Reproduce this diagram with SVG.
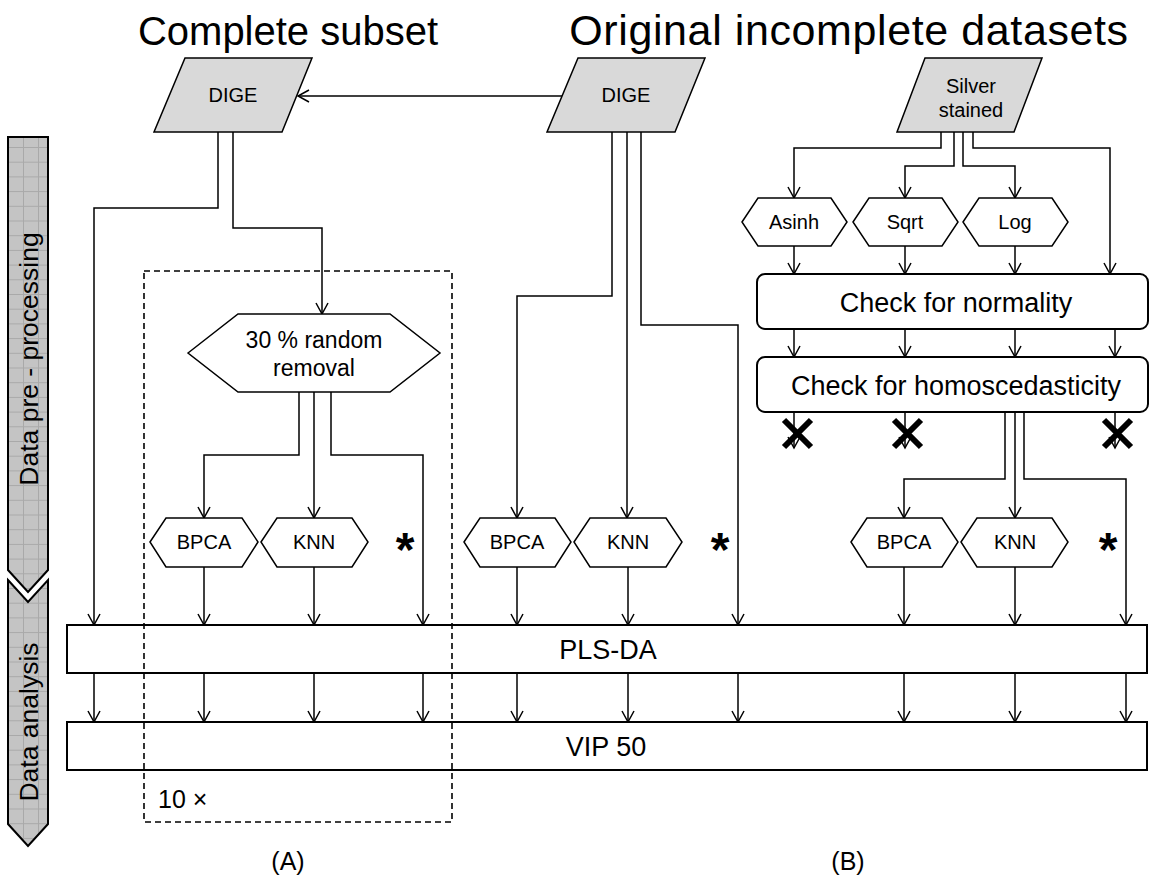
<svg xmlns="http://www.w3.org/2000/svg" width="1156" height="893" viewBox="0 0 1156 893">
  <defs>
    <marker id="arrow" viewBox="0 0 14 14" refX="12" refY="7" markerWidth="14" markerHeight="14" markerUnits="userSpaceOnUse" orient="auto">
      <path d="M1,1 L12,7 L1,13" fill="none" stroke="#000" stroke-width="1.5"/>
    </marker>
    <pattern id="grid" x="8" y="0" width="15" height="14.7" patternUnits="userSpaceOnUse">
      <rect width="15" height="14.7" fill="#c4c4c4"/>
      <path d="M0,0.5 H15 M0.5,0 V14.7" stroke="#a9a9a9" stroke-width="1" fill="none"/>
    </pattern>
    <style>
      text { font-family: "Liberation Sans", Arial, sans-serif; fill: #000; }
      .title { font-size: 40px; text-anchor: middle; }
      .lbl { font-size: 20px; text-anchor: middle; }
      .big { font-size: 27px; text-anchor: middle; }
      .side { font-size: 26.5px; text-anchor: middle; }
      .star { font-size: 48px; font-weight: bold; text-anchor: middle; }
      .data { fill: #d9d9d9; stroke: #000; stroke-width: 1.5; }
      .hex { fill: #fff; stroke: #000; stroke-width: 1.5; }
      .box { fill: #fff; stroke: #000; stroke-width: 2; }
      .band { fill: url(#grid); stroke: #000; stroke-width: 2; }
      .conn path { fill: none; stroke: #000; stroke-width: 1.5; marker-end: url(#arrow); }
      .cross { stroke: #000; stroke-width: 6; fill: none; }
    </style>
  </defs>

  <rect width="1156" height="893" fill="#fff"/>

  <!-- section titles -->
  <text class="title" x="288" y="45">Complete subset</text>
  <text class="title" x="849" y="45" style="font-size:43px;letter-spacing:0.6px">Original incomplete datasets</text>

  <!-- side bands -->
  <g id="band-preprocessing">
    <path class="band" d="M8,137 H48 V570 L28,592 L8,570 Z"/>
    <text class="side" transform="translate(38,359) rotate(-90)">Data pre - processing</text>
  </g>
  <g id="band-analysis">
    <path class="band" d="M8,580 L28,602 L48,580 V824 L28,846 L8,824 Z"/>
    <text class="side" transform="translate(38,722) rotate(-90)">Data analysis</text>
  </g>

  <!-- connectors -->
  <g id="connectors" class="conn">
    <path d="M562,96 H298"/>
    <!-- complete subset -->
    <path d="M218,132 V208 H94 V625"/>
    <path d="M233,132 V228 H322 V314"/>
    <path d="M299,392 V455 H204 V518"/>
    <path d="M314,392 V518"/>
    <path d="M331,392 V455 H423 V625"/>
    <path d="M204,567 V625"/>
    <path d="M314,567 V625"/>
    <!-- original DIGE -->
    <path d="M612,132 V296 H517 V518"/>
    <path d="M627,132 V518"/>
    <path d="M641,132 V325 H738 V625"/>
    <path d="M517,567 V625"/>
    <path d="M628,567 V625"/>
    <!-- silver stained -->
    <path d="M941,132 V148 H794 V198"/>
    <path d="M954,132 V166 H905 V198"/>
    <path d="M963,132 V166 H1015 V198"/>
    <path d="M973,132 V148 H1110 V274"/>
    <path d="M794,246 V274"/>
    <path d="M905,246 V274"/>
    <path d="M1015,246 V274"/>
    <path d="M794,329 V357"/>
    <path d="M905,329 V357"/>
    <path d="M1015,329 V357"/>
    <path d="M1115,329 V357"/>
    <path d="M794,412 V448"/>
    <path d="M905,412 V448"/>
    <path d="M1115,412 V448"/>
    <path d="M1005,412 V479 H904 V518"/>
    <path d="M1015,412 V518"/>
    <path d="M1024,412 V479 H1126 V625"/>
    <path d="M904,567 V625"/>
    <path d="M1015,567 V625"/>
    <!-- PLS-DA to VIP -->
    <path d="M94,673 V722"/>
    <path d="M204,673 V722"/>
    <path d="M314,673 V722"/>
    <path d="M423,673 V722"/>
    <path d="M517,673 V722"/>
    <path d="M628,673 V722"/>
    <path d="M738,673 V722"/>
    <path d="M904,673 V722"/>
    <path d="M1015,673 V722"/>
    <path d="M1126,673 V722"/>
  </g>

  <!-- input datasets -->
  <g id="dige-complete">
    <polygon class="data" points="185,58 312,58 282,132 154,132"/>
    <text class="lbl" x="233" y="102">DIGE</text>
  </g>
  <g id="dige-original">
    <polygon class="data" points="578,58 705,58 675,132 547,132"/>
    <text class="lbl" x="626" y="102">DIGE</text>
  </g>
  <g id="silver-stained">
    <polygon class="data" points="925,58 1042,58 1014,132 897,132"/>
    <text class="lbl" x="971" y="93">Silver</text>
    <text class="lbl" x="971" y="117">stained</text>
  </g>

  <!-- random removal -->
  <g id="random-removal">
    <polygon class="hex" points="188,353 238,314 390,314 440,353 390,392 238,392"/>
    <text class="lbl" x="314" y="348" style="font-size:23px">30 % random</text>
    <text class="lbl" x="314" y="376" style="font-size:23px">removal</text>
  </g>

  <!-- transformations -->
  <g id="asinh">
    <polygon class="hex" points="742,222 758,198 831,198 847,222 831,246 758,246"/>
    <text class="lbl" x="794" y="229">Asinh</text>
  </g>
  <g id="sqrt">
    <polygon class="hex" points="853,222 869,198 942,198 958,222 942,246 869,246"/>
    <text class="lbl" x="905" y="229">Sqrt</text>
  </g>
  <g id="log">
    <polygon class="hex" points="963,222 979,198 1052,198 1068,222 1052,246 979,246"/>
    <text class="lbl" x="1015" y="229">Log</text>
  </g>

  <!-- checks -->
  <g id="check-normality">
    <rect class="box" x="757" y="274" width="391" height="55" rx="8"/>
    <text class="big" x="956" y="312">Check for normality</text>
  </g>
  <g id="check-homoscedasticity">
    <rect class="box" x="757" y="357" width="391" height="55" rx="8"/>
    <text class="big" x="956" y="395">Check for homoscedasticity</text>
  </g>

  <!-- rejected branches -->
  <g id="rejected">
    <path class="cross" d="M784,420 L811,447 M811,420 L784,447"/>
    <path class="cross" d="M894,420 L921,447 M921,420 L894,447"/>
    <path class="cross" d="M1104,420 L1131,447 M1131,420 L1104,447"/>
  </g>

  <!-- imputation, complete subset -->
  <g id="bpca-a">
    <polygon class="hex" points="150,542 166,518 242,518 258,542 242,567 166,567"/>
    <text class="lbl" x="204" y="549">BPCA</text>
  </g>
  <g id="knn-a">
    <polygon class="hex" points="261,542 277,518 352,518 368,542 352,567 277,567"/>
    <text class="lbl" x="314" y="549">KNN</text>
  </g>
  <text class="star" x="405" y="566">*</text>

  <!-- imputation, original DIGE -->
  <g id="bpca-b1">
    <polygon class="hex" points="464,542 480,518 555,518 571,542 555,567 480,567"/>
    <text class="lbl" x="517" y="549">BPCA</text>
  </g>
  <g id="knn-b1">
    <polygon class="hex" points="574,542 590,518 666,518 682,542 666,567 590,567"/>
    <text class="lbl" x="628" y="549">KNN</text>
  </g>
  <text class="star" x="720" y="566">*</text>

  <!-- imputation, silver stained -->
  <g id="bpca-b2">
    <polygon class="hex" points="851,542 867,518 942,518 958,542 942,567 867,567"/>
    <text class="lbl" x="904" y="549">BPCA</text>
  </g>
  <g id="knn-b2">
    <polygon class="hex" points="961,542 977,518 1052,518 1068,542 1052,567 977,567"/>
    <text class="lbl" x="1015" y="549">KNN</text>
  </g>
  <text class="star" x="1108" y="566">*</text>

  <!-- analysis -->
  <g id="pls-da">
    <rect class="box" x="67" y="625" width="1080" height="48"/>
    <text class="big" x="608" y="659">PLS-DA</text>
  </g>
  <g id="vip-50">
    <rect class="box" x="67" y="722" width="1080" height="48"/>
    <text class="big" x="606" y="756">VIP 50</text>
  </g>

  <!-- repetition frame -->
  <g id="repeat-frame">
    <rect x="144" y="271" width="308" height="551" fill="none" stroke="#000" stroke-width="1.6" stroke-dasharray="6,4"/>
    <text x="158" y="808" style="font-size:25px">10 ×</text>
  </g>

  <!-- panel labels -->
  <text class="lbl" x="288" y="870" style="font-size:25px">(A)</text>
  <text class="lbl" x="848" y="870" style="font-size:25px">(B)</text>
</svg>
